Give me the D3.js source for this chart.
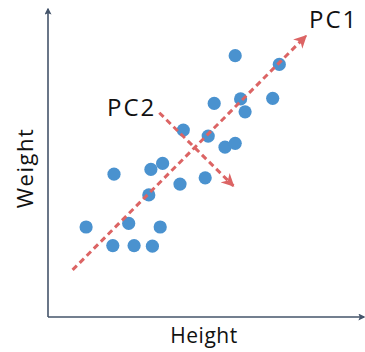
<!DOCTYPE html>
<html>
<head>
<meta charset="utf-8">
<script src="https://cdn.jsdelivr.net/npm/d3@7"></script>
<style>
  body { margin: 0; background: #fff; }
  text { font-family: "Open Sans", sans-serif; fill: #111; }
</style>
</head>
<body>
<div id="chart"></div>
<script>
// Sample data: height (x) and weight (y) on a 0-100 scale
const heights = [62.4, 77.1, 55.4, 64.2, 65.7, 74.9, 45.1, 53.4, 59.0, 62.4, 22.0,
                 34.3, 38.2, 44.0, 52.4, 33.6, 12.7, 26.9, 37.4, 21.6, 28.7, 34.8];
const weights = [87.1, 84.2, 71.2, 72.7, 68.4, 72.9, 62.3, 60.3, 56.6, 57.9, 47.6,
                 49.2, 51.2, 44.3, 46.4, 40.7, 30.0, 31.2, 30.0, 23.8, 23.8, 23.6];

// Principal component arrows: [x1, y1, x2, y2]
const componentNames = ['PC1', 'PC2'];
const componentLines = [[8.2, 15.7, 86.0, 93.7], [37.1, 68.1, 61.8, 43.7]];

const width = 365, height = 352;
const origin = { x: 48, y: 317 };

const x = d3.scaleLinear().domain([0, 100]).range([origin.x, origin.x + 300]);
const y = d3.scaleLinear().domain([0, 100]).range([origin.y, origin.y - 300]);

const svg = d3.select('#chart').append('svg')
  .attr('width', width)
  .attr('height', height);

const defs = svg.append('defs');
// arrow head for axes
defs.append('marker')
  .attr('id', 'axisHead')
  .attr('viewBox', '0 0 10 10')
  .attr('refX', 8).attr('refY', 5)
  .attr('markerWidth', 7).attr('markerHeight', 7)
  .attr('markerUnits', 'userSpaceOnUse')
  .attr('orient', 'auto')
  .append('path')
  .attr('d', 'M0,0 L10,5 L0,10 L2,5 Z')
  .attr('fill', '#44546a');
// arrow head for components
defs.append('marker')
  .attr('id', 'pcHead')
  .attr('viewBox', '0 0 10 10')
  .attr('refX', 9).attr('refY', 5)
  .attr('markerWidth', 13).attr('markerHeight', 13)
  .attr('markerUnits', 'userSpaceOnUse')
  .attr('orient', 'auto')
  .append('path')
  .attr('d', 'M0,0 L10,5 L0,10 L3,5 Z')
  .attr('fill', '#dc6464');

// axes drawn as plain arrows (no ticks)
svg.append('line')
  .attr('x1', x(0)).attr('y1', y(0))
  .attr('x2', x(0)).attr('y2', 9)
  .attr('stroke', '#44546a').attr('stroke-width', 1.6)
  .attr('marker-end', 'url(#axisHead)');
svg.append('line')
  .attr('x1', x(0)).attr('y1', y(0))
  .attr('x2', 364).attr('y2', y(0))
  .attr('stroke', '#44546a').attr('stroke-width', 1.6)
  .attr('marker-end', 'url(#axisHead)');

// axis labels
svg.append('text')
  .attr('x', 204).attr('y', 343)
  .attr('text-anchor', 'middle')
  .style('font-size', '21px')
  .style('letter-spacing', '0.5px')
  .text('Height');
svg.append('text')
  .attr('transform', 'translate(33,168) rotate(-90)')
  .attr('text-anchor', 'middle')
  .style('font-size', '22px')
  .style('letter-spacing', '1.5px')
  .text('Weight');

// data points
svg.selectAll('.dot')
  .data(heights.map((h, i) => ({ h: h, w: weights[i] })))
  .enter()
  .append('circle')
  .attr('class', 'dot')
  .attr('cx', d => x(d.h))
  .attr('cy', d => y(d.w))
  .attr('r', 6.6)
  .attr('fill', '#4a92cf');

// component arrows (dashed, over the points)
svg.selectAll('.pc')
  .data(componentLines)
  .enter()
  .append('line')
  .attr('class', 'pc')
  .attr('x1', d => x(d[0])).attr('y1', d => y(d[1]))
  .attr('x2', d => x(d[2])).attr('y2', d => y(d[3]))
  .attr('stroke', '#dc6464')
  .attr('stroke-width', 3)
  .attr('stroke-dasharray', '6,4')
  .attr('marker-end', 'url(#pcHead)');

// component labels
svg.append('text')
  .attr('x', 309).attr('y', 28)
  .style('font-size', '24px')
  .style('letter-spacing', '2px')
  .text(componentNames[0]);
svg.append('text')
  .attr('x', 107).attr('y', 116)
  .style('font-size', '24px')
  .style('letter-spacing', '2px')
  .text(componentNames[1]);
</script>
</body>
</html>
